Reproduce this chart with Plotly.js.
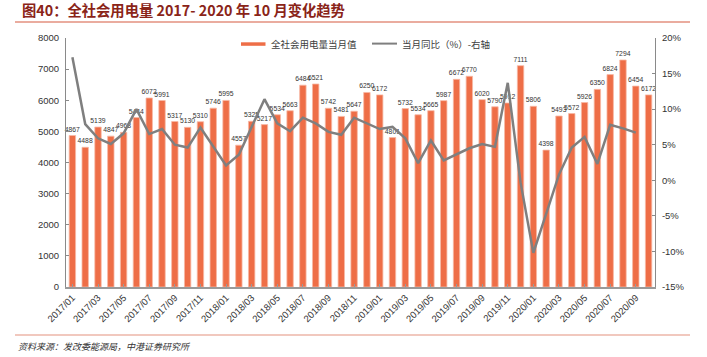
<!DOCTYPE html>
<html>
<head>
<meta charset="utf-8">
<script src="https://cdn.plot.ly/plotly-3.0.1.min.js"></script>
<style>html,body{margin:0;padding:0;background:#fff;}#chart{width:707px;height:357px;}</style>
</head>
<body>
<div id="chart"></div>
<script>
var months = ["2017/01","2017/02","2017/03","2017/04","2017/05","2017/06","2017/07","2017/08","2017/09","2017/10","2017/11","2017/12",
"2018/01","2018/02","2018/03","2018/04","2018/05","2018/06","2018/07","2018/08","2018/09","2018/10","2018/11","2018/12",
"2019/01","2019/02","2019/03","2019/04","2019/05","2019/06","2019/07","2019/08","2019/09","2019/10","2019/11","2019/12",
"2020/01","2020/02","2020/03","2020/04","2020/05","2020/06","2020/07","2020/08","2020/09","2020/10"];
var monthlyValue = [4867,4488,5139,4847,4968,5444,6072,5991,5317,5130,5310,5746,
5995,4557,5325,5217,5534,5663,6484,6521,5742,5481,5647,6250,
6172,4801,5732,5534,5665,5987,6672,6770,6020,5790,5912,7111,
5806,4398,5493,5572,5926,6350,6824,7294,6454,6172];
var yoyPct = [17.3,7.9,5.9,5.1,6.6,10.0,6.5,7.2,5.0,4.6,7.4,4.8,
2.1,3.6,7.5,11.4,8.0,6.9,8.8,8.0,6.8,6.4,8.8,8.0,
7.2,7.5,5.9,2.4,5.6,2.8,3.7,4.5,5.1,4.7,13.7,-0.3,
-10.2,-4.8,0.8,4.6,6.1,2.3,7.8,7.3,6.7,null];
var tickLabels = months.filter(function(m,i){return i%2===0;});
var leftTicks = [0,1000,2000,3000,4000,5000,6000,7000,8000];
var rightTicks = [-15,-10,-5,0,5,10,15,20];

var FONT = "Liberation Sans, Arial, Noto Sans CJK SC, sans-serif";
var CJK = "Noto Sans CJK SC, Liberation Sans, sans-serif";

var bars = {
  type:'bar', x:months, y:monthlyValue, name:'全社会用电量当月值',
  marker:{color:'#EE6E47', line:{color:'#F7B9A5', width:0.8}},
  width:0.5,
  text:monthlyValue.map(String), textposition:'outside', constraintext:'none',
  textfont:{family:FONT, size:6.8, color:'#333'}, cliponaxis:false,
  hoverinfo:'skip', showlegend:false
};
var line = {
  type:'scatter', mode:'lines', x:months, y:yoyPct, yaxis:'y2', name:'当月同比（%）-右轴',
  line:{color:'#7F7F7F', width:2.5}, connectgaps:false, hoverinfo:'skip', showlegend:false
};

var layout = {
  width:707, height:357,
  margin:{l:66, r:52, t:38, b:70},
  paper_bgcolor:'#fff', plot_bgcolor:'#fff',
  font:{family:FONT, size:9.5, color:'#333'},
  showlegend:false,
  title:{text:'图40：全社会用电量 2017- 2020 年 10 月变化趋势', x:22/707, xref:'container', xanchor:'left',
    y:1-11/357, yref:'container', yanchor:'middle',
    font:{family:CJK, size:14.3, color:'#8A2418', weight:'bold'}},
  xaxis:{type:'category', range:[-0.5,45.5], tickvals:tickLabels, ticktext:tickLabels,
    tickangle:-45, tickfont:{family:FONT, size:9.5, color:'#333'},
    showline:true, linecolor:'#9a9a9a', linewidth:1.5, ticks:'inside', ticklen:3, tickcolor:'#9a9a9a',
    showgrid:false, zeroline:false, fixedrange:true},
  yaxis:{range:[0,8000], tickvals:leftTicks, showline:true, linecolor:'#8a8a8a', linewidth:1,
    ticks:'inside', ticklen:3, tickcolor:'#8a8a8a', showgrid:false, zeroline:false,
    tickfont:{family:FONT, size:9.5, color:'#333'}, ticklabelstandoff:4},
  yaxis2:{range:[-15,20], tickvals:rightTicks, ticktext:rightTicks.map(function(v){return v+'%';}),
    overlaying:'y', side:'right', showline:true, linecolor:'#8a8a8a', linewidth:1,
    ticks:'inside', ticklen:3, tickcolor:'#8a8a8a', showgrid:false, zeroline:false,
    tickfont:{family:FONT, size:9.5, color:'#333'}, ticklabelstandoff:4},
  shapes:[
    {type:'line', xref:'paper', yref:'paper', x0:(15-66)/589, x1:(690-66)/589, y0:(287-22)/249, y1:(287-22)/249,
      line:{color:'#E3917F', width:1.5}},
    {type:'line', xref:'paper', yref:'paper', x0:(15-66)/589, x1:(690-66)/589, y0:(287-335)/249, y1:(287-335)/249,
      line:{color:'#E3917F', width:1.2}},
    {type:'rect', xref:'paper', yref:'paper', x0:(241-66)/589, x1:(265.5-66)/589, y0:(287-45.8)/249, y1:(287-42.3)/249,
      fillcolor:'#EE6E47', line:{width:0}},
    {type:'line', xref:'paper', yref:'paper', x0:(372-66)/589, x1:(397-66)/589, y0:(287-43.6)/249, y1:(287-43.6)/249,
      line:{color:'#7F7F7F', width:2}}
  ],
  annotations:[
    {text:'全社会用电量当月值', xref:'paper', yref:'paper', x:(269-66)/589, y:(287-44)/249, xanchor:'left', yanchor:'middle',
      showarrow:false, font:{family:CJK, size:9.5, color:'#404040'}},
    {text:'当月同比（%）-右轴', xref:'paper', yref:'paper', x:(400-66)/589, y:(287-44)/249, xanchor:'left', yanchor:'middle',
      showarrow:false, font:{family:CJK, size:9.5, color:'#404040'}},
    {text:'<i>资料来源：发改委能源局，中港证券研究所</i>', xref:'paper', yref:'paper', x:(16-66)/589, y:(287-346)/249,
      xanchor:'left', yanchor:'middle', showarrow:false, font:{family:CJK, size:9, color:'#333'}}
  ]
};
Plotly.newPlot('chart', [bars, line], layout, {displayModeBar:false, staticPlot:true});
</script>
</body>
</html>
